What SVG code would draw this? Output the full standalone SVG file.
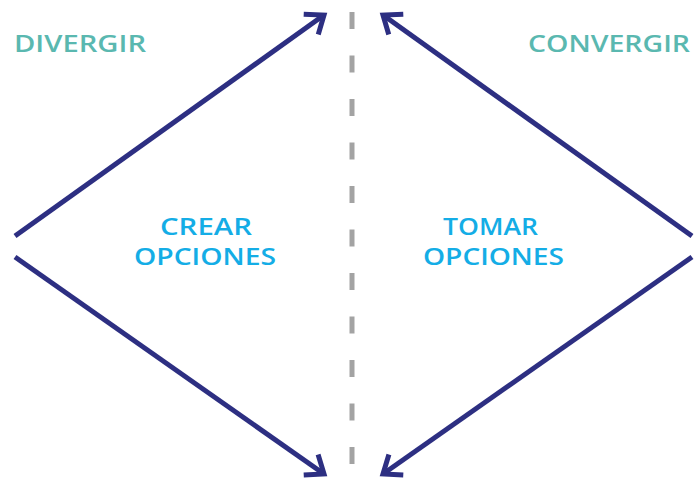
<svg xmlns="http://www.w3.org/2000/svg" width="695" height="482" viewBox="0 0 695 482">
<style>
.edge{stroke:#2d2f82;stroke-width:5;fill:none;stroke-linecap:butt}
.lbl{font-family:"Open Sans","Liberation Sans",sans-serif;font-weight:600;font-size:24px}
.teal{fill:#5ab8b0}
.cyan{fill:#14ade6}
</style>
<defs>
<marker id="chev" markerUnits="userSpaceOnUse" markerWidth="30" markerHeight="30" viewBox="-24 -15 28 30" refX="0" refY="0" orient="auto">
<path d="M-16,-12.5 L0,0 L-16,12.5" fill="none" stroke="#2d2f82" stroke-width="5" stroke-linejoin="miter"/>
</marker>
</defs>
<rect width="695" height="482" fill="#ffffff"/>
<g id="connectors">
<line class="edge" x1="15" y1="236" x2="324" y2="15" marker-end="url(#chev)"/>
<line class="edge" x1="15" y1="257" x2="324" y2="474" marker-end="url(#chev)"/>
<line class="edge" x1="692" y1="236" x2="383" y2="15" marker-end="url(#chev)"/>
<line class="edge" x1="692" y1="257" x2="383" y2="474" marker-end="url(#chev)"/>
<line x1="352" y1="12" x2="352" y2="465" stroke="#a3a3a3" stroke-width="5" stroke-dasharray="17 26.5"/>
</g>
<g id="divergir"><text class="lbl teal" x="14" y="52" textLength="132" lengthAdjust="spacingAndGlyphs">DIVERGIR</text></g>
<g id="convergir"><text class="lbl teal" x="528" y="52" textLength="162" lengthAdjust="spacingAndGlyphs">CONVERGIR</text></g>
<g id="crear"><text class="lbl cyan" x="160" y="235" textLength="92" lengthAdjust="spacingAndGlyphs">CREAR</text><text class="lbl cyan" x="134" y="265" textLength="142" lengthAdjust="spacingAndGlyphs">OPCIONES</text></g>
<g id="tomar"><text class="lbl cyan" x="443" y="235" textLength="95" lengthAdjust="spacingAndGlyphs">TOMAR</text><text class="lbl cyan" x="423" y="265" textLength="141" lengthAdjust="spacingAndGlyphs">OPCIONES</text></g>
</svg>
